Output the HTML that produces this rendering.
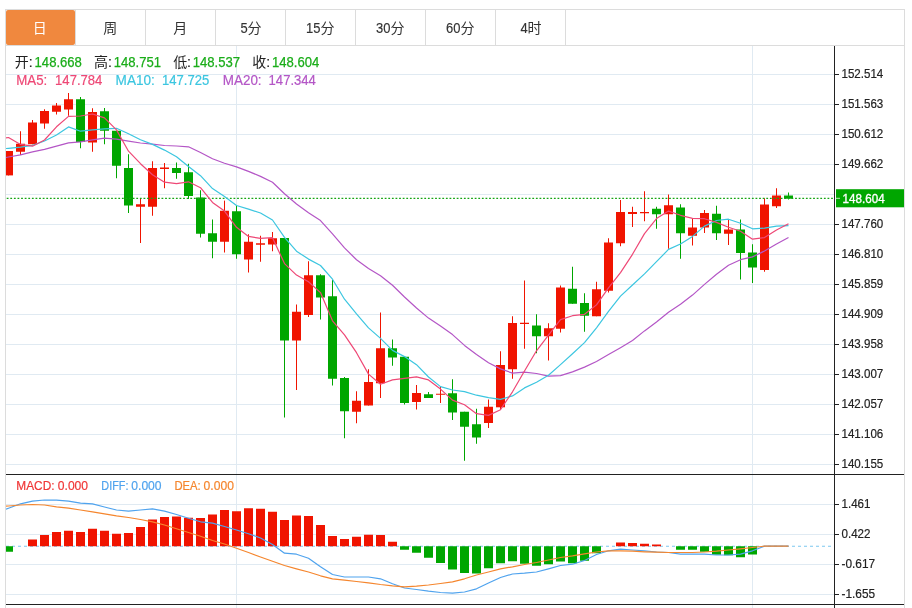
<!DOCTYPE html><html><head><meta charset="utf-8"><title>chart</title><style>html,body{margin:0;padding:0;background:#fff}svg{display:block;will-change:transform}text{font-family:"Liberation Sans",sans-serif}.cjk{font-family:"Liberation Sans","Noto Sans CJK SC",sans-serif}</style></head><body>
<svg width="912" height="608" viewBox="0 0 912 608">
<rect width="912" height="608" fill="#fff"/>
<defs><clipPath id="cp"><rect x="6" y="46" width="828" height="562"/></clipPath></defs>
<g shape-rendering="crispEdges" fill="#e0eaf2">
<rect x="6" y="74" width="828" height="1"/>
<rect x="6" y="104" width="828" height="1"/>
<rect x="6" y="134" width="828" height="1"/>
<rect x="6" y="164" width="828" height="1"/>
<rect x="6" y="194" width="828" height="1"/>
<rect x="6" y="224" width="828" height="1"/>
<rect x="6" y="254" width="828" height="1"/>
<rect x="6" y="284" width="828" height="1"/>
<rect x="6" y="314" width="828" height="1"/>
<rect x="6" y="344" width="828" height="1"/>
<rect x="6" y="374" width="828" height="1"/>
<rect x="6" y="404" width="828" height="1"/>
<rect x="6" y="434" width="828" height="1"/>
<rect x="6" y="464" width="828" height="1"/>
<rect x="6" y="504" width="828" height="1"/>
<rect x="6" y="534" width="828" height="1"/>
<rect x="6" y="564" width="828" height="1"/>
<rect x="6" y="594" width="828" height="1"/>
<rect x="236" y="46" width="1" height="562"/>
<rect x="752" y="46" width="1" height="562"/>
</g>
<g shape-rendering="crispEdges" fill="#dcdcdc">
<rect x="5" y="9" width="900" height="1"/>
<rect x="5" y="45" width="900" height="1"/>
<rect x="5" y="9" width="1" height="599"/>
<rect x="904" y="9" width="1" height="599"/>
<rect x="75" y="10" width="1" height="35"/>
<rect x="145" y="10" width="1" height="35"/>
<rect x="215" y="10" width="1" height="35"/>
<rect x="285" y="10" width="1" height="35"/>
<rect x="355" y="10" width="1" height="35"/>
<rect x="425" y="10" width="1" height="35"/>
<rect x="495" y="10" width="1" height="35"/>
<rect x="565" y="10" width="1" height="35"/>
</g>
<rect x="6" y="10" width="69" height="35" rx="2" fill="#f0883e"/>
<text class="cjk" x="32.8" y="33" font-size="14" fill="#fff">日</text>
<text class="cjk" x="103.3" y="33" font-size="14" fill="#333">周</text>
<text class="cjk" x="173.3" y="33" font-size="14" fill="#333">月</text>
<text x="240.4" y="33"  font-size="14" fill="#333" stroke="#333" stroke-width="0.15" textLength="7.2" lengthAdjust="spacingAndGlyphs">5</text><text class="cjk" x="247.6" y="33" font-size="14" fill="#333">分</text>
<text x="306.1" y="33"  font-size="14" fill="#333" stroke="#333" stroke-width="0.15" textLength="14.4" lengthAdjust="spacingAndGlyphs">15</text><text class="cjk" x="320.5" y="33" font-size="14" fill="#333">分</text>
<text x="376.1" y="33"  font-size="14" fill="#333" stroke="#333" stroke-width="0.15" textLength="14.4" lengthAdjust="spacingAndGlyphs">30</text><text class="cjk" x="390.5" y="33" font-size="14" fill="#333">分</text>
<text x="446.1" y="33"  font-size="14" fill="#333" stroke="#333" stroke-width="0.15" textLength="14.4" lengthAdjust="spacingAndGlyphs">60</text><text class="cjk" x="460.5" y="33" font-size="14" fill="#333">分</text>
<text x="520.4" y="33"  font-size="14" fill="#333" stroke="#333" stroke-width="0.15" textLength="7.2" lengthAdjust="spacingAndGlyphs">4</text><text class="cjk" x="527.6" y="33" font-size="14" fill="#333">时</text>
<g clip-path="url(#cp)">
<line x1="6" y1="546.25" x2="834" y2="546.25" stroke="#7cc8f0" stroke-width="1.1" stroke-dasharray="3,3"/>
<g>
<rect x="8" y="151.00" width="1" height="24.40" fill="#f01400"/>
<rect x="4" y="151.00" width="9" height="24.40" fill="#f01400"/>
<rect x="20" y="131.25" width="1" height="23.75" fill="#f01400"/>
<rect x="16" y="143.75" width="9" height="8.00" fill="#f01400"/>
<rect x="32" y="120.00" width="1" height="24.25" fill="#f01400"/>
<rect x="28" y="122.50" width="9" height="21.75" fill="#f01400"/>
<rect x="44" y="109.25" width="1" height="19.50" fill="#f01400"/>
<rect x="40" y="111.00" width="9" height="12.50" fill="#f01400"/>
<rect x="56" y="103.00" width="1" height="11.50" fill="#f01400"/>
<rect x="52" y="105.50" width="9" height="6.25" fill="#f01400"/>
<rect x="68" y="93.00" width="1" height="22.75" fill="#f01400"/>
<rect x="64" y="99.25" width="9" height="10.25" fill="#f01400"/>
<rect x="80" y="97.00" width="1" height="51.25" fill="#00a600"/>
<rect x="76" y="99.25" width="9" height="42.75" fill="#00a600"/>
<rect x="92" y="108.25" width="1" height="43.50" fill="#f01400"/>
<rect x="88" y="112.00" width="9" height="30.50" fill="#f01400"/>
<rect x="104" y="108.00" width="1" height="36.25" fill="#00a600"/>
<rect x="100" y="111.25" width="9" height="19.50" fill="#00a600"/>
<rect x="116" y="130.75" width="1" height="47.50" fill="#00a600"/>
<rect x="112" y="130.75" width="9" height="35.00" fill="#00a600"/>
<rect x="128" y="154.25" width="1" height="58.75" fill="#00a600"/>
<rect x="124" y="168.00" width="9" height="37.50" fill="#00a600"/>
<rect x="140" y="198.00" width="1" height="45.00" fill="#f01400"/>
<rect x="136" y="204.25" width="9" height="2.50" fill="#f01400"/>
<rect x="152" y="161.25" width="1" height="54.50" fill="#f01400"/>
<rect x="148" y="168.00" width="9" height="38.75" fill="#f01400"/>
<rect x="164" y="163.00" width="1" height="25.25" fill="#f01400"/>
<rect x="160" y="167.50" width="9" height="1.50" fill="#f01400"/>
<rect x="176" y="162.50" width="1" height="16.25" fill="#00a600"/>
<rect x="172" y="168.00" width="9" height="5.00" fill="#00a600"/>
<rect x="188" y="163.75" width="1" height="35.25" fill="#00a600"/>
<rect x="184" y="172.25" width="9" height="23.75" fill="#00a600"/>
<rect x="200" y="190.25" width="1" height="47.25" fill="#00a600"/>
<rect x="196" y="197.50" width="9" height="36.25" fill="#00a600"/>
<rect x="212" y="219.50" width="1" height="38.75" fill="#00a600"/>
<rect x="208" y="233.25" width="9" height="8.50" fill="#00a600"/>
<rect x="224" y="200.60" width="1" height="51.90" fill="#f01400"/>
<rect x="220" y="210.75" width="9" height="31.00" fill="#f01400"/>
<rect x="236" y="205.50" width="1" height="53.25" fill="#00a600"/>
<rect x="232" y="211.25" width="9" height="43.00" fill="#00a600"/>
<rect x="248" y="234.25" width="1" height="38.25" fill="#f01400"/>
<rect x="244" y="241.75" width="9" height="17.75" fill="#f01400"/>
<rect x="260" y="235.75" width="1" height="26.00" fill="#f01400"/>
<rect x="256" y="243.25" width="9" height="1.50" fill="#f01400"/>
<rect x="272" y="232.00" width="1" height="19.25" fill="#f01400"/>
<rect x="268" y="238.25" width="9" height="6.25" fill="#f01400"/>
<rect x="284" y="238.00" width="1" height="179.50" fill="#00a600"/>
<rect x="280" y="238.00" width="9" height="102.50" fill="#00a600"/>
<rect x="296" y="304.50" width="1" height="85.50" fill="#f01400"/>
<rect x="292" y="311.75" width="9" height="28.75" fill="#f01400"/>
<rect x="308" y="261.25" width="1" height="55.75" fill="#f01400"/>
<rect x="304" y="275.25" width="9" height="39.75" fill="#f01400"/>
<rect x="320" y="274.25" width="1" height="45.25" fill="#00a600"/>
<rect x="316" y="275.25" width="9" height="22.25" fill="#00a600"/>
<rect x="332" y="280.00" width="1" height="105.50" fill="#00a600"/>
<rect x="328" y="296.25" width="9" height="82.50" fill="#00a600"/>
<rect x="344" y="377.00" width="1" height="61.25" fill="#00a600"/>
<rect x="340" y="378.00" width="9" height="33.25" fill="#00a600"/>
<rect x="356" y="391.25" width="1" height="32.00" fill="#f01400"/>
<rect x="352" y="400.75" width="9" height="11.00" fill="#f01400"/>
<rect x="368" y="369.25" width="1" height="36.25" fill="#f01400"/>
<rect x="364" y="382.00" width="9" height="23.50" fill="#f01400"/>
<rect x="380" y="312.50" width="1" height="85.50" fill="#f01400"/>
<rect x="376" y="348.25" width="9" height="35.00" fill="#f01400"/>
<rect x="392" y="339.50" width="1" height="26.25" fill="#00a600"/>
<rect x="388" y="348.25" width="9" height="9.25" fill="#00a600"/>
<rect x="404" y="356.75" width="1" height="47.75" fill="#00a600"/>
<rect x="400" y="356.75" width="9" height="46.25" fill="#00a600"/>
<rect x="416" y="385.00" width="1" height="24.50" fill="#f01400"/>
<rect x="412" y="393.00" width="9" height="9.00" fill="#f01400"/>
<rect x="428" y="392.00" width="1" height="6.00" fill="#00a600"/>
<rect x="424" y="394.25" width="9" height="3.75" fill="#00a600"/>
<rect x="440" y="386.25" width="1" height="16.75" fill="#f01400"/>
<rect x="436" y="393.75" width="9" height="1.00" fill="#f01400"/>
<rect x="452" y="379.25" width="1" height="40.75" fill="#00a600"/>
<rect x="448" y="393.25" width="9" height="19.25" fill="#00a600"/>
<rect x="464" y="411.75" width="1" height="49.00" fill="#00a600"/>
<rect x="460" y="411.75" width="9" height="15.00" fill="#00a600"/>
<rect x="476" y="408.75" width="1" height="35.00" fill="#00a600"/>
<rect x="472" y="424.25" width="9" height="13.25" fill="#00a600"/>
<rect x="488" y="399.50" width="1" height="28.50" fill="#f01400"/>
<rect x="484" y="406.75" width="9" height="16.25" fill="#f01400"/>
<rect x="500" y="351.25" width="1" height="58.25" fill="#f01400"/>
<rect x="496" y="365.00" width="9" height="42.30" fill="#f01400"/>
<rect x="512" y="316.25" width="1" height="62.50" fill="#f01400"/>
<rect x="508" y="323.00" width="9" height="46.25" fill="#f01400"/>
<rect x="524" y="280.50" width="1" height="68.25" fill="#f01400"/>
<rect x="520" y="322.75" width="9" height="1.25" fill="#f01400"/>
<rect x="536" y="314.25" width="1" height="39.00" fill="#00a600"/>
<rect x="532" y="325.50" width="9" height="10.75" fill="#00a600"/>
<rect x="548" y="323.25" width="1" height="37.25" fill="#f01400"/>
<rect x="544" y="328.25" width="9" height="8.00" fill="#f01400"/>
<rect x="560" y="285.50" width="1" height="47.00" fill="#f01400"/>
<rect x="556" y="287.50" width="9" height="41.25" fill="#f01400"/>
<rect x="572" y="266.75" width="1" height="37.00" fill="#00a600"/>
<rect x="568" y="288.75" width="9" height="15.00" fill="#00a600"/>
<rect x="584" y="293.25" width="1" height="38.50" fill="#00a600"/>
<rect x="580" y="303.00" width="9" height="12.75" fill="#00a600"/>
<rect x="596" y="281.75" width="1" height="34.50" fill="#f01400"/>
<rect x="592" y="289.25" width="9" height="27.00" fill="#f01400"/>
<rect x="608" y="238.25" width="1" height="54.25" fill="#f01400"/>
<rect x="604" y="242.50" width="9" height="48.25" fill="#f01400"/>
<rect x="620" y="200.00" width="1" height="46.25" fill="#f01400"/>
<rect x="616" y="212.00" width="9" height="31.25" fill="#f01400"/>
<rect x="632" y="206.75" width="1" height="20.25" fill="#f01400"/>
<rect x="628" y="212.00" width="9" height="2.00" fill="#f01400"/>
<rect x="644" y="191.25" width="1" height="30.00" fill="#f01400"/>
<rect x="640" y="212.00" width="9" height="1.25" fill="#f01400"/>
<rect x="656" y="206.75" width="1" height="22.00" fill="#00a600"/>
<rect x="652" y="208.75" width="9" height="5.50" fill="#00a600"/>
<rect x="668" y="194.50" width="1" height="54.25" fill="#f01400"/>
<rect x="664" y="205.25" width="9" height="9.00" fill="#f01400"/>
<rect x="680" y="204.25" width="1" height="54.50" fill="#00a600"/>
<rect x="676" y="207.50" width="9" height="25.75" fill="#00a600"/>
<rect x="692" y="218.00" width="1" height="27.50" fill="#f01400"/>
<rect x="688" y="227.50" width="9" height="8.25" fill="#f01400"/>
<rect x="704" y="210.00" width="1" height="23.00" fill="#f01400"/>
<rect x="700" y="213.00" width="9" height="14.50" fill="#f01400"/>
<rect x="716" y="205.75" width="1" height="34.25" fill="#00a600"/>
<rect x="712" y="213.75" width="9" height="19.50" fill="#00a600"/>
<rect x="728" y="220.00" width="1" height="25.00" fill="#f01400"/>
<rect x="724" y="229.50" width="9" height="4.25" fill="#f01400"/>
<rect x="740" y="219.50" width="1" height="60.00" fill="#00a600"/>
<rect x="736" y="229.50" width="9" height="23.50" fill="#00a600"/>
<rect x="752" y="244.25" width="1" height="38.75" fill="#00a600"/>
<rect x="748" y="252.50" width="9" height="15.00" fill="#00a600"/>
<rect x="764" y="198.25" width="1" height="73.50" fill="#f01400"/>
<rect x="760" y="204.50" width="9" height="65.50" fill="#f01400"/>
<rect x="776" y="188.25" width="1" height="19.75" fill="#f01400"/>
<rect x="772" y="195.50" width="9" height="10.75" fill="#f01400"/>
<rect x="788" y="192.50" width="1" height="7.00" fill="#00a600"/>
<rect x="784" y="195.50" width="9" height="3.25" fill="#00a600"/>
<rect x="4" y="546.25" width="9" height="5.50" fill="#00a600"/>
<rect x="28" y="539.50" width="9" height="6.75" fill="#f01400"/>
<rect x="40" y="535.00" width="9" height="11.25" fill="#f01400"/>
<rect x="52" y="532.00" width="9" height="14.25" fill="#f01400"/>
<rect x="64" y="530.75" width="9" height="15.50" fill="#f01400"/>
<rect x="76" y="532.00" width="9" height="14.25" fill="#f01400"/>
<rect x="88" y="528.75" width="9" height="17.50" fill="#f01400"/>
<rect x="100" y="530.75" width="9" height="15.50" fill="#f01400"/>
<rect x="112" y="533.75" width="9" height="12.50" fill="#f01400"/>
<rect x="124" y="533.00" width="9" height="13.25" fill="#f01400"/>
<rect x="136" y="527.00" width="9" height="19.25" fill="#f01400"/>
<rect x="148" y="519.50" width="9" height="26.75" fill="#f01400"/>
<rect x="160" y="517.00" width="9" height="29.25" fill="#f01400"/>
<rect x="172" y="516.50" width="9" height="29.75" fill="#f01400"/>
<rect x="184" y="517.75" width="9" height="28.50" fill="#f01400"/>
<rect x="196" y="518.00" width="9" height="28.25" fill="#f01400"/>
<rect x="208" y="514.50" width="9" height="31.75" fill="#f01400"/>
<rect x="220" y="510.00" width="9" height="36.25" fill="#f01400"/>
<rect x="232" y="511.25" width="9" height="35.00" fill="#f01400"/>
<rect x="244" y="508.25" width="9" height="38.00" fill="#f01400"/>
<rect x="256" y="508.75" width="9" height="37.50" fill="#f01400"/>
<rect x="268" y="511.75" width="9" height="34.50" fill="#f01400"/>
<rect x="280" y="520.00" width="9" height="26.25" fill="#f01400"/>
<rect x="292" y="515.50" width="9" height="30.75" fill="#f01400"/>
<rect x="304" y="516.00" width="9" height="30.25" fill="#f01400"/>
<rect x="316" y="525.00" width="9" height="21.25" fill="#f01400"/>
<rect x="328" y="536.00" width="9" height="10.25" fill="#f01400"/>
<rect x="340" y="539.00" width="9" height="7.25" fill="#f01400"/>
<rect x="352" y="536.75" width="9" height="9.50" fill="#f01400"/>
<rect x="364" y="534.75" width="9" height="11.50" fill="#f01400"/>
<rect x="376" y="535.00" width="9" height="11.25" fill="#f01400"/>
<rect x="388" y="541.75" width="9" height="4.50" fill="#f01400"/>
<rect x="400" y="546.25" width="9" height="3.50" fill="#00a600"/>
<rect x="412" y="546.25" width="9" height="6.50" fill="#00a600"/>
<rect x="424" y="546.25" width="9" height="11.50" fill="#00a600"/>
<rect x="436" y="546.25" width="9" height="16.75" fill="#00a600"/>
<rect x="448" y="546.25" width="9" height="23.25" fill="#00a600"/>
<rect x="460" y="546.25" width="9" height="26.75" fill="#00a600"/>
<rect x="472" y="546.25" width="9" height="27.25" fill="#00a600"/>
<rect x="484" y="546.25" width="9" height="22.00" fill="#00a600"/>
<rect x="496" y="546.25" width="9" height="17.00" fill="#00a600"/>
<rect x="508" y="546.25" width="9" height="15.00" fill="#00a600"/>
<rect x="520" y="546.25" width="9" height="17.50" fill="#00a600"/>
<rect x="532" y="546.25" width="9" height="19.50" fill="#00a600"/>
<rect x="544" y="546.25" width="9" height="18.00" fill="#00a600"/>
<rect x="556" y="546.25" width="9" height="15.25" fill="#00a600"/>
<rect x="568" y="546.25" width="9" height="17.00" fill="#00a600"/>
<rect x="580" y="546.25" width="9" height="14.50" fill="#00a600"/>
<rect x="592" y="546.25" width="9" height="7.00" fill="#00a600"/>
<rect x="616" y="542.50" width="9" height="3.75" fill="#f01400"/>
<rect x="628" y="543.00" width="9" height="3.25" fill="#f01400"/>
<rect x="640" y="543.75" width="9" height="2.50" fill="#f01400"/>
<rect x="652" y="544.50" width="9" height="1.75" fill="#f01400"/>
<rect x="676" y="546.25" width="9" height="3.50" fill="#00a600"/>
<rect x="688" y="546.25" width="9" height="3.50" fill="#00a600"/>
<rect x="700" y="546.25" width="9" height="5.50" fill="#00a600"/>
<rect x="712" y="546.25" width="9" height="8.50" fill="#00a600"/>
<rect x="724" y="546.25" width="9" height="9.00" fill="#00a600"/>
<rect x="736" y="546.25" width="9" height="11.00" fill="#00a600"/>
<rect x="748" y="546.25" width="9" height="8.25" fill="#00a600"/>
</g>
<line x1="6.7" y1="198.3" x2="834" y2="198.3" stroke="#14a514" stroke-width="1.2" stroke-dasharray="1.8,1.8"/>
<polyline points="6.0,157.5 8.5,157.0 20.5,154.8 32.5,151.9 44.5,149.4 56.5,146.2 68.5,142.8 80.5,141.9 92.5,139.8 104.5,138.2 116.5,139.2 128.5,141.2 140.5,143.0 152.5,144.2 164.5,145.5 176.5,146.0 188.5,146.8 200.5,152.5 212.5,158.8 224.5,163.2 236.5,166.9 248.5,171.4 260.5,176.4 272.5,182.2 284.5,193.7 296.5,204.0 308.5,212.8 320.5,220.6 332.5,233.9 344.5,247.9 356.5,259.7 368.5,268.5 380.5,275.7 392.5,285.2 404.5,297.0 416.5,308.0 428.5,318.1 440.5,326.1 452.5,334.6 464.5,345.4 476.5,354.6 488.5,362.8 500.5,368.9 512.5,373.1 524.5,372.2 536.5,373.5 548.5,376.1 560.5,375.6 572.5,371.9 584.5,367.1 596.5,361.5 608.5,354.6 620.5,347.7 632.5,340.5 644.5,330.9 656.5,322.0 668.5,312.3 680.5,304.3 692.5,295.1 704.5,284.4 716.5,274.2 728.5,265.3 740.5,259.7 752.5,256.9 764.5,251.0 776.5,244.0 788.5,237.5" fill="none" stroke="#b456c6" stroke-width="1.2" stroke-linejoin="round"/>
<polyline points="6.0,148.5 8.5,148.3 20.5,147.1 32.5,145.4 44.5,141.0 56.5,135.0 68.5,126.9 80.5,131.2 92.5,129.8 104.5,128.8 116.5,128.3 128.5,133.8 140.5,139.8 152.5,144.4 164.5,150.1 176.5,156.8 188.5,166.5 200.5,175.7 212.5,188.6 224.5,196.6 236.5,205.5 248.5,209.1 260.5,213.0 272.5,220.0 284.5,237.3 296.5,251.2 308.5,259.1 320.5,265.5 332.5,279.2 344.5,299.2 356.5,313.9 368.5,327.9 380.5,338.4 392.5,350.4 404.5,356.6 416.5,364.7 428.5,377.0 440.5,386.6 452.5,390.0 464.5,391.6 476.5,395.2 488.5,397.7 500.5,399.4 512.5,395.9 524.5,387.9 536.5,382.2 548.5,375.2 560.5,364.6 572.5,353.8 584.5,342.6 596.5,327.8 608.5,311.4 620.5,296.1 632.5,285.0 644.5,273.9 656.5,261.7 668.5,249.4 680.5,244.0 692.5,236.4 704.5,226.1 716.5,220.5 728.5,219.2 740.5,223.3 752.5,228.8 764.5,228.1 776.5,226.2 788.5,225.6" fill="none" stroke="#3cc6e0" stroke-width="1.2" stroke-linejoin="round"/>
<polyline points="6.0,137.8 8.5,137.5 20.5,144.4 32.5,146.2 44.5,140.0 56.5,126.8 68.5,116.4 80.5,116.0 92.5,114.0 104.5,117.9 116.5,129.9 128.5,151.2 140.5,163.7 152.5,174.8 164.5,182.2 176.5,183.7 188.5,181.8 200.5,187.7 212.5,202.4 224.5,211.1 236.5,227.3 248.5,236.4 260.5,238.3 272.5,237.7 284.5,263.6 296.5,275.1 308.5,281.8 320.5,292.6 332.5,320.8 344.5,334.9 356.5,352.7 368.5,374.1 380.5,384.2 392.5,379.9 404.5,378.3 416.5,376.8 428.5,379.9 440.5,389.1 452.5,400.1 464.5,404.8 476.5,413.7 488.5,415.4 500.5,409.7 512.5,391.8 524.5,371.0 536.5,350.8 548.5,335.1 560.5,319.6 572.5,315.7 584.5,314.3 596.5,304.9 608.5,287.8 620.5,272.6 632.5,254.3 644.5,233.6 656.5,218.6 668.5,211.1 680.5,215.3 692.5,218.4 704.5,218.7 716.5,222.4 728.5,227.3 740.5,231.2 752.5,239.2 764.5,237.6 776.5,230.0 788.5,223.8" fill="none" stroke="#ee4876" stroke-width="1.2" stroke-linejoin="round"/>
<polyline points="6.0,509.2 8.5,508.2 20.5,503.8 32.5,501.2 44.5,500.0 56.5,500.2 68.5,501.2 80.5,503.2 92.5,503.8 104.5,507.0 116.5,510.0 128.5,511.2 140.5,510.0 152.5,508.8 164.5,511.2 176.5,514.5 188.5,518.2 200.5,521.8 212.5,523.2 224.5,526.5 236.5,530.0 248.5,533.8 260.5,538.0 272.5,544.5 284.5,553.2 296.5,554.2 308.5,558.2 320.5,566.8 332.5,574.5 344.5,577.0 356.5,577.0 368.5,577.0 380.5,578.8 392.5,583.8 404.5,588.0 416.5,589.5 428.5,591.2 440.5,592.5 452.5,593.2 464.5,592.0 476.5,588.8 488.5,583.0 500.5,577.5 512.5,574.0 524.5,573.2 536.5,572.0 548.5,568.8 560.5,565.5 572.5,564.2 584.5,560.5 596.5,554.5 608.5,550.8 620.5,549.2 632.5,550.0 644.5,550.8 656.5,552.0 668.5,552.5 680.5,554.2 692.5,554.2 704.5,554.2 716.5,555.0 728.5,555.0 740.5,554.2 752.5,550.8 764.5,546.2 776.5,546.2 788.5,546.2" fill="none" stroke="#4fa3ee" stroke-width="1.2" stroke-linejoin="round"/>
<polyline points="6.0,506.2 8.5,506.0 20.5,505.0 32.5,504.5 44.5,505.0 56.5,506.8 68.5,508.2 80.5,510.0 92.5,511.8 104.5,513.8 116.5,515.8 128.5,517.5 140.5,519.5 152.5,521.8 164.5,525.0 176.5,528.8 188.5,532.5 200.5,536.2 212.5,540.5 224.5,544.0 236.5,548.2 248.5,552.5 260.5,557.0 272.5,561.2 284.5,565.5 296.5,568.8 308.5,572.0 320.5,575.8 332.5,578.8 344.5,580.2 356.5,581.5 368.5,582.8 380.5,584.5 392.5,585.8 404.5,586.8 416.5,586.2 428.5,585.0 440.5,583.5 452.5,581.8 464.5,578.8 476.5,575.0 488.5,572.0 500.5,568.8 512.5,566.8 524.5,564.5 536.5,562.5 548.5,560.0 560.5,557.5 572.5,555.8 584.5,553.8 596.5,552.0 608.5,550.8 620.5,550.8 632.5,551.2 644.5,551.8 656.5,552.2 668.5,552.5 680.5,552.5 692.5,552.5 704.5,552.0 716.5,551.2 728.5,550.0 740.5,548.8 752.5,547.5 764.5,546.2 776.5,546.2 788.5,546.2" fill="none" stroke="#f5862e" stroke-width="1.2" stroke-linejoin="round"/>
</g>
<g shape-rendering="crispEdges" fill="#222">
<rect x="834" y="46" width="1" height="562"/>
<rect x="6" y="474" width="898" height="1"/>
<rect x="6" y="604" width="898" height="1"/>
<rect x="835" y="74" width="4" height="1"/>
<rect x="835" y="104" width="4" height="1"/>
<rect x="835" y="134" width="4" height="1"/>
<rect x="835" y="164" width="4" height="1"/>
<rect x="835" y="224" width="4" height="1"/>
<rect x="835" y="254" width="4" height="1"/>
<rect x="835" y="284" width="4" height="1"/>
<rect x="835" y="314" width="4" height="1"/>
<rect x="835" y="344" width="4" height="1"/>
<rect x="835" y="374" width="4" height="1"/>
<rect x="835" y="404" width="4" height="1"/>
<rect x="835" y="434" width="4" height="1"/>
<rect x="835" y="464" width="4" height="1"/>
<rect x="835" y="504" width="4" height="1"/>
<rect x="835" y="534" width="4" height="1"/>
<rect x="835" y="564" width="4" height="1"/>
<rect x="835" y="594" width="4" height="1"/>
</g>
<text x="841.5" y="78.4" font-size="12.7" fill="#222" stroke="#222" stroke-width="0.2" lengthAdjust="spacingAndGlyphs" textLength="41.8">152.514</text>
<text x="841.5" y="108.4" font-size="12.7" fill="#222" stroke="#222" stroke-width="0.2" lengthAdjust="spacingAndGlyphs" textLength="41.8">151.563</text>
<text x="841.5" y="138.4" font-size="12.7" fill="#222" stroke="#222" stroke-width="0.2" lengthAdjust="spacingAndGlyphs" textLength="41.8">150.612</text>
<text x="841.5" y="168.4" font-size="12.7" fill="#222" stroke="#222" stroke-width="0.2" lengthAdjust="spacingAndGlyphs" textLength="41.8">149.662</text>
<text x="841.5" y="228.4" font-size="12.7" fill="#222" stroke="#222" stroke-width="0.2" lengthAdjust="spacingAndGlyphs" textLength="41.8">147.760</text>
<text x="841.5" y="258.4" font-size="12.7" fill="#222" stroke="#222" stroke-width="0.2" lengthAdjust="spacingAndGlyphs" textLength="41.8">146.810</text>
<text x="841.5" y="288.4" font-size="12.7" fill="#222" stroke="#222" stroke-width="0.2" lengthAdjust="spacingAndGlyphs" textLength="41.8">145.859</text>
<text x="841.5" y="318.4" font-size="12.7" fill="#222" stroke="#222" stroke-width="0.2" lengthAdjust="spacingAndGlyphs" textLength="41.8">144.909</text>
<text x="841.5" y="348.4" font-size="12.7" fill="#222" stroke="#222" stroke-width="0.2" lengthAdjust="spacingAndGlyphs" textLength="41.8">143.958</text>
<text x="841.5" y="378.4" font-size="12.7" fill="#222" stroke="#222" stroke-width="0.2" lengthAdjust="spacingAndGlyphs" textLength="41.8">143.007</text>
<text x="841.5" y="408.4" font-size="12.7" fill="#222" stroke="#222" stroke-width="0.2" lengthAdjust="spacingAndGlyphs" textLength="41.8">142.057</text>
<text x="841.5" y="438.4" font-size="12.7" fill="#222" stroke="#222" stroke-width="0.2" lengthAdjust="spacingAndGlyphs" textLength="41.8">141.106</text>
<text x="841.5" y="468.4" font-size="12.7" fill="#222" stroke="#222" stroke-width="0.2" lengthAdjust="spacingAndGlyphs" textLength="41.8">140.155</text>
<text x="841.5" y="508.4" font-size="12.7" fill="#222" stroke="#222" stroke-width="0.2" lengthAdjust="spacingAndGlyphs" textLength="29.0">1.461</text>
<text x="841.5" y="538.4" font-size="12.7" fill="#222" stroke="#222" stroke-width="0.2" lengthAdjust="spacingAndGlyphs" textLength="29.0">0.422</text>
<text x="841.5" y="568.4" font-size="12.7" fill="#222" stroke="#222" stroke-width="0.2" lengthAdjust="spacingAndGlyphs" textLength="33.6">-0.617</text>
<text x="841.5" y="598.4" font-size="12.7" fill="#222" stroke="#222" stroke-width="0.2" lengthAdjust="spacingAndGlyphs" textLength="33.6">-1.655</text>
<rect x="836" y="189.2" width="68" height="18.1" fill="#00a600"/>
<rect x="836" y="197.8" width="4" height="1" fill="#fff" opacity="0.75"/>
<text x="842.6" y="202.8"  font-size="13" fill="#fff" stroke="#fff" stroke-width="0.35" textLength="42" lengthAdjust="spacingAndGlyphs">148.604</text>
<text class="cjk" x="14.75" y="67.4" font-size="14" fill="#222">开</text><text x="28.7" y="67" font-size="14" fill="#222" stroke="#222" stroke-width="0.2">:</text><text x="34.6" y="67" font-size="14.2" fill="#1aad19" stroke="#1aad19" stroke-width="0.25" textLength="47.3" lengthAdjust="spacingAndGlyphs">148.668</text>
<text class="cjk" x="93.95" y="67.4" font-size="14" fill="#222">高</text><text x="107.9" y="67" font-size="14" fill="#222" stroke="#222" stroke-width="0.2">:</text><text x="113.80000000000001" y="67" font-size="14.2" fill="#1aad19" stroke="#1aad19" stroke-width="0.25" textLength="47.3" lengthAdjust="spacingAndGlyphs">148.751</text>
<text class="cjk" x="173.15" y="67.4" font-size="14" fill="#222">低</text><text x="187.1" y="67" font-size="14" fill="#222" stroke="#222" stroke-width="0.2">:</text><text x="192.8" y="67" font-size="14.2" fill="#1aad19" stroke="#1aad19" stroke-width="0.25" textLength="47.3" lengthAdjust="spacingAndGlyphs">148.537</text>
<text class="cjk" x="252.25" y="67.4" font-size="14" fill="#222">收</text><text x="266.2" y="67" font-size="14" fill="#222" stroke="#222" stroke-width="0.2">:</text><text x="272.0" y="67" font-size="14.2" fill="#1aad19" stroke="#1aad19" stroke-width="0.25" textLength="47.3" lengthAdjust="spacingAndGlyphs">148.604</text>
<text x="16.3" y="84.8" font-size="13.9" fill="#ee4876" stroke="#ee4876" stroke-width="0.2" textLength="31" lengthAdjust="spacingAndGlyphs">MA5:</text>
<text x="55.1" y="84.8" font-size="13.9" fill="#ee4876" stroke="#ee4876" stroke-width="0.2" textLength="47.3" lengthAdjust="spacingAndGlyphs">147.784</text>
<text x="115.6" y="84.8" font-size="13.9" fill="#3cc6e0" stroke="#3cc6e0" stroke-width="0.2" textLength="39.2" lengthAdjust="spacingAndGlyphs">MA10:</text>
<text x="162" y="84.8" font-size="13.9" fill="#3cc6e0" stroke="#3cc6e0" stroke-width="0.2" textLength="47.3" lengthAdjust="spacingAndGlyphs">147.725</text>
<text x="222.8" y="84.8" font-size="13.9" fill="#b456c6" stroke="#b456c6" stroke-width="0.2" textLength="38.8" lengthAdjust="spacingAndGlyphs">MA20:</text>
<text x="268.6" y="84.8" font-size="13.9" fill="#b456c6" stroke="#b456c6" stroke-width="0.2" textLength="47.3" lengthAdjust="spacingAndGlyphs">147.344</text>
<text x="16.3" y="490" font-size="13" fill="#f03636" stroke="#f03636" stroke-width="0.2" textLength="38.2" lengthAdjust="spacingAndGlyphs">MACD:</text>
<text x="57.8" y="490" font-size="13" fill="#f03636" stroke="#f03636" stroke-width="0.2" textLength="30.3" lengthAdjust="spacingAndGlyphs">0.000</text>
<text x="101.3" y="490" font-size="13" fill="#4fa3ee" stroke="#4fa3ee" stroke-width="0.2" textLength="27.1" lengthAdjust="spacingAndGlyphs">DIFF:</text>
<text x="131.3" y="490" font-size="13" fill="#4fa3ee" stroke="#4fa3ee" stroke-width="0.2" textLength="30.3" lengthAdjust="spacingAndGlyphs">0.000</text>
<text x="174.4" y="490" font-size="13" fill="#f5862e" stroke="#f5862e" stroke-width="0.2" textLength="26.3" lengthAdjust="spacingAndGlyphs">DEA:</text>
<text x="203.6" y="490" font-size="13" fill="#f5862e" stroke="#f5862e" stroke-width="0.2" textLength="30.3" lengthAdjust="spacingAndGlyphs">0.000</text>
</svg></body></html>
